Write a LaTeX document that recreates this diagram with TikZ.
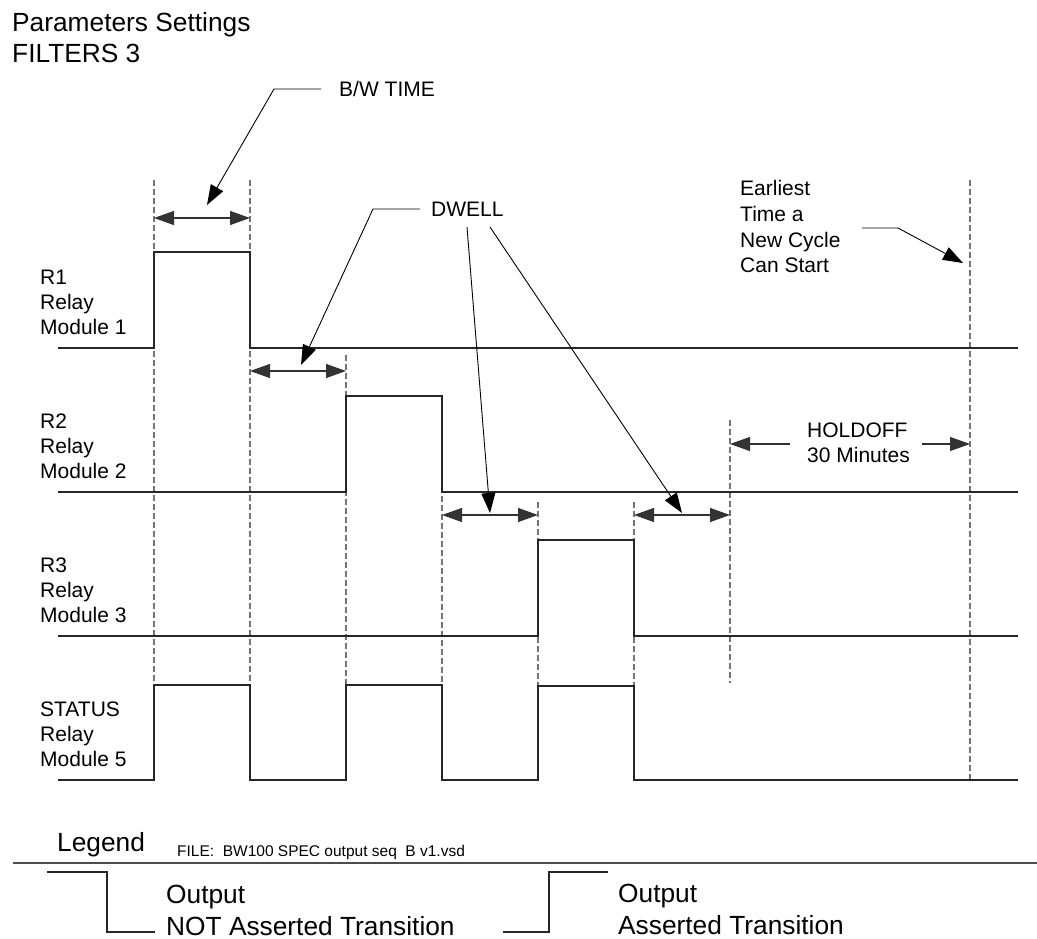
\documentclass[tikz,border=0pt]{standalone}
\usepackage{fontspec}
\setmainfont{Liberation Sans}
\usetikzlibrary{arrows.meta}

\begin{document}
\begin{tikzpicture}[
    x=1pt, y=-1pt,
    sig/.style={line width=1.2pt, black!85},
    guide/.style={dash pattern=on 6pt off 3pt, line width=1.1pt, black!55},
    dimline/.style={
        {Triangle[length=20pt, width=14pt]}-{Triangle[length=20pt, width=14pt]},
        line width=1.1pt, black!80
    },
    halfdim/.style={-{Triangle[length=20pt, width=14pt]}, line width=1.1pt, black!80},
    leader/.style={-{Triangle[length=20pt, width=14pt]}, line width=0.9pt, black},
    lbl/.style={font=\fontsize{21}{25}\selectfont, inner sep=0pt, align=left, anchor=north west},
    big/.style={font=\fontsize{26.3}{31}\selectfont, inner sep=0pt, align=left, anchor=north west},
    small/.style={font=\fontsize{15.5}{18}\selectfont, inner sep=0pt, anchor=base west}
]
\useasboundingbox (0,0) rectangle (1037,939);

% ===================================================================
% TITLE
% ===================================================================
\node[big] (title) at (12,12.5) {Parameters Settings\\FILTERS 3};

% ===================================================================
% GUIDE LINES (dashed)
% ===================================================================
\draw[guide] (154,180) -- (154,780);
\draw[guide] (250,180) -- (250,780);
\draw[guide] (346,355) -- (346,780);
\draw[guide] (442,496) -- (442,780);
\draw[guide] (538,502) -- (538,780);
\draw[guide] (634,502) -- (634,780);
\draw[guide] (730,420) -- (730,683);
\draw[guide] (970,180) -- (970,780);

% ===================================================================
% SIGNALS
% ===================================================================
\node[lbl] (r1lbl) at (40,269.5) {R1\\Relay\\Module 1};
\draw[sig] (58,348) -- (154,348) -- (154,252) -- (250,252) -- (250,348) -- (1018,348);

\node[lbl] (r2lbl) at (40,413.5) {R2\\Relay\\Module 2};
\draw[sig] (58,492) -- (346,492) -- (346,396) -- (442,396) -- (442,492) -- (1018,492);

\node[lbl] (r3lbl) at (40,557.5) {R3\\Relay\\Module 3};
\draw[sig] (58,636) -- (538,636) -- (538,540) -- (634,540) -- (634,636) -- (1018,636);

\node[lbl] (stlbl) at (40,701.5) {STATUS\\Relay\\Module 5};
\draw[sig] (58,780) -- (154,780) -- (154,685) -- (250,685) -- (250,780)
    -- (346,780) -- (346,685) -- (442,685) -- (442,780)
    -- (538,780) -- (538,686) -- (634,686) -- (634,780) -- (1018,780);

% ===================================================================
% TIME SPANS
% ===================================================================
\coordinate (bwL) at (154,218);  \coordinate (bwR) at (250,218);
\coordinate (dw1L) at (250,371); \coordinate (dw1R) at (346,371);
\coordinate (dw2L) at (442,515); \coordinate (dw2R) at (538,515);
\coordinate (dw3L) at (634,515); \coordinate (dw3R) at (730,515);
\draw[dimline] (bwL) -- (bwR);
\draw[dimline] (dw1L) -- (dw1R);
\draw[dimline] (dw2L) -- (dw2R);
\draw[dimline] (dw3L) -- (dw3R);

% holdoff
\node[lbl] (hold) at (807,422.4) {HOLDOFF\\30 Minutes};
\coordinate (holdL) at (790,444); \coordinate (holdR) at (922,444);
\draw[halfdim] (holdL) -- (730,444);
\draw[halfdim] (holdR) -- (970,444);

% ===================================================================
% CALLOUTS
% ===================================================================
\node[lbl, anchor=base west] (bwlbl) at (339,96.6) {B/W TIME};
\draw[leader] (321,89) -- (274,89) -- (207,205);

\node[lbl, anchor=base west] (dwlbl) at (431,216.6) {DWELL};
\draw[leader] (420,209) -- (373,209) -- (301,365);
\draw[leader] (467,227) -- (490,513);
\draw[leader] (490,227) -- (682,513);

\node[lbl, font=\fontsize{21}{25.7}\selectfont] (early) at (740,180.4)
    {Earliest\\Time a\\New Cycle\\Can Start};
\draw[leader] (862,228) -- (898,228) -- (963,263);

% ===================================================================
% LEGEND
% ===================================================================
\node[big, anchor=base west] (legend) at (57,851) {Legend};
\node[small] (file) at (177,856.5) {FILE:\ \ BW100 SPEC output seq\ \ B v1.vsd};
\draw[line width=1.2pt, black!70] (13,863) -- (1037,863);

\draw[sig] (47,872) -- (107,872) -- (107,932) -- (155,932);
\node[big, font=\fontsize{26.3}{32}\selectfont] (notas) at (166,884.5)
    {Output\\NOT Asserted Transition};

\draw[sig] (503,932) -- (549,932) -- (549,872) -- (608,872);
\node[big, font=\fontsize{26.3}{32}\selectfont] (asser) at (618,884)
    {Output\\Asserted Transition};

\end{tikzpicture}
\end{document}
